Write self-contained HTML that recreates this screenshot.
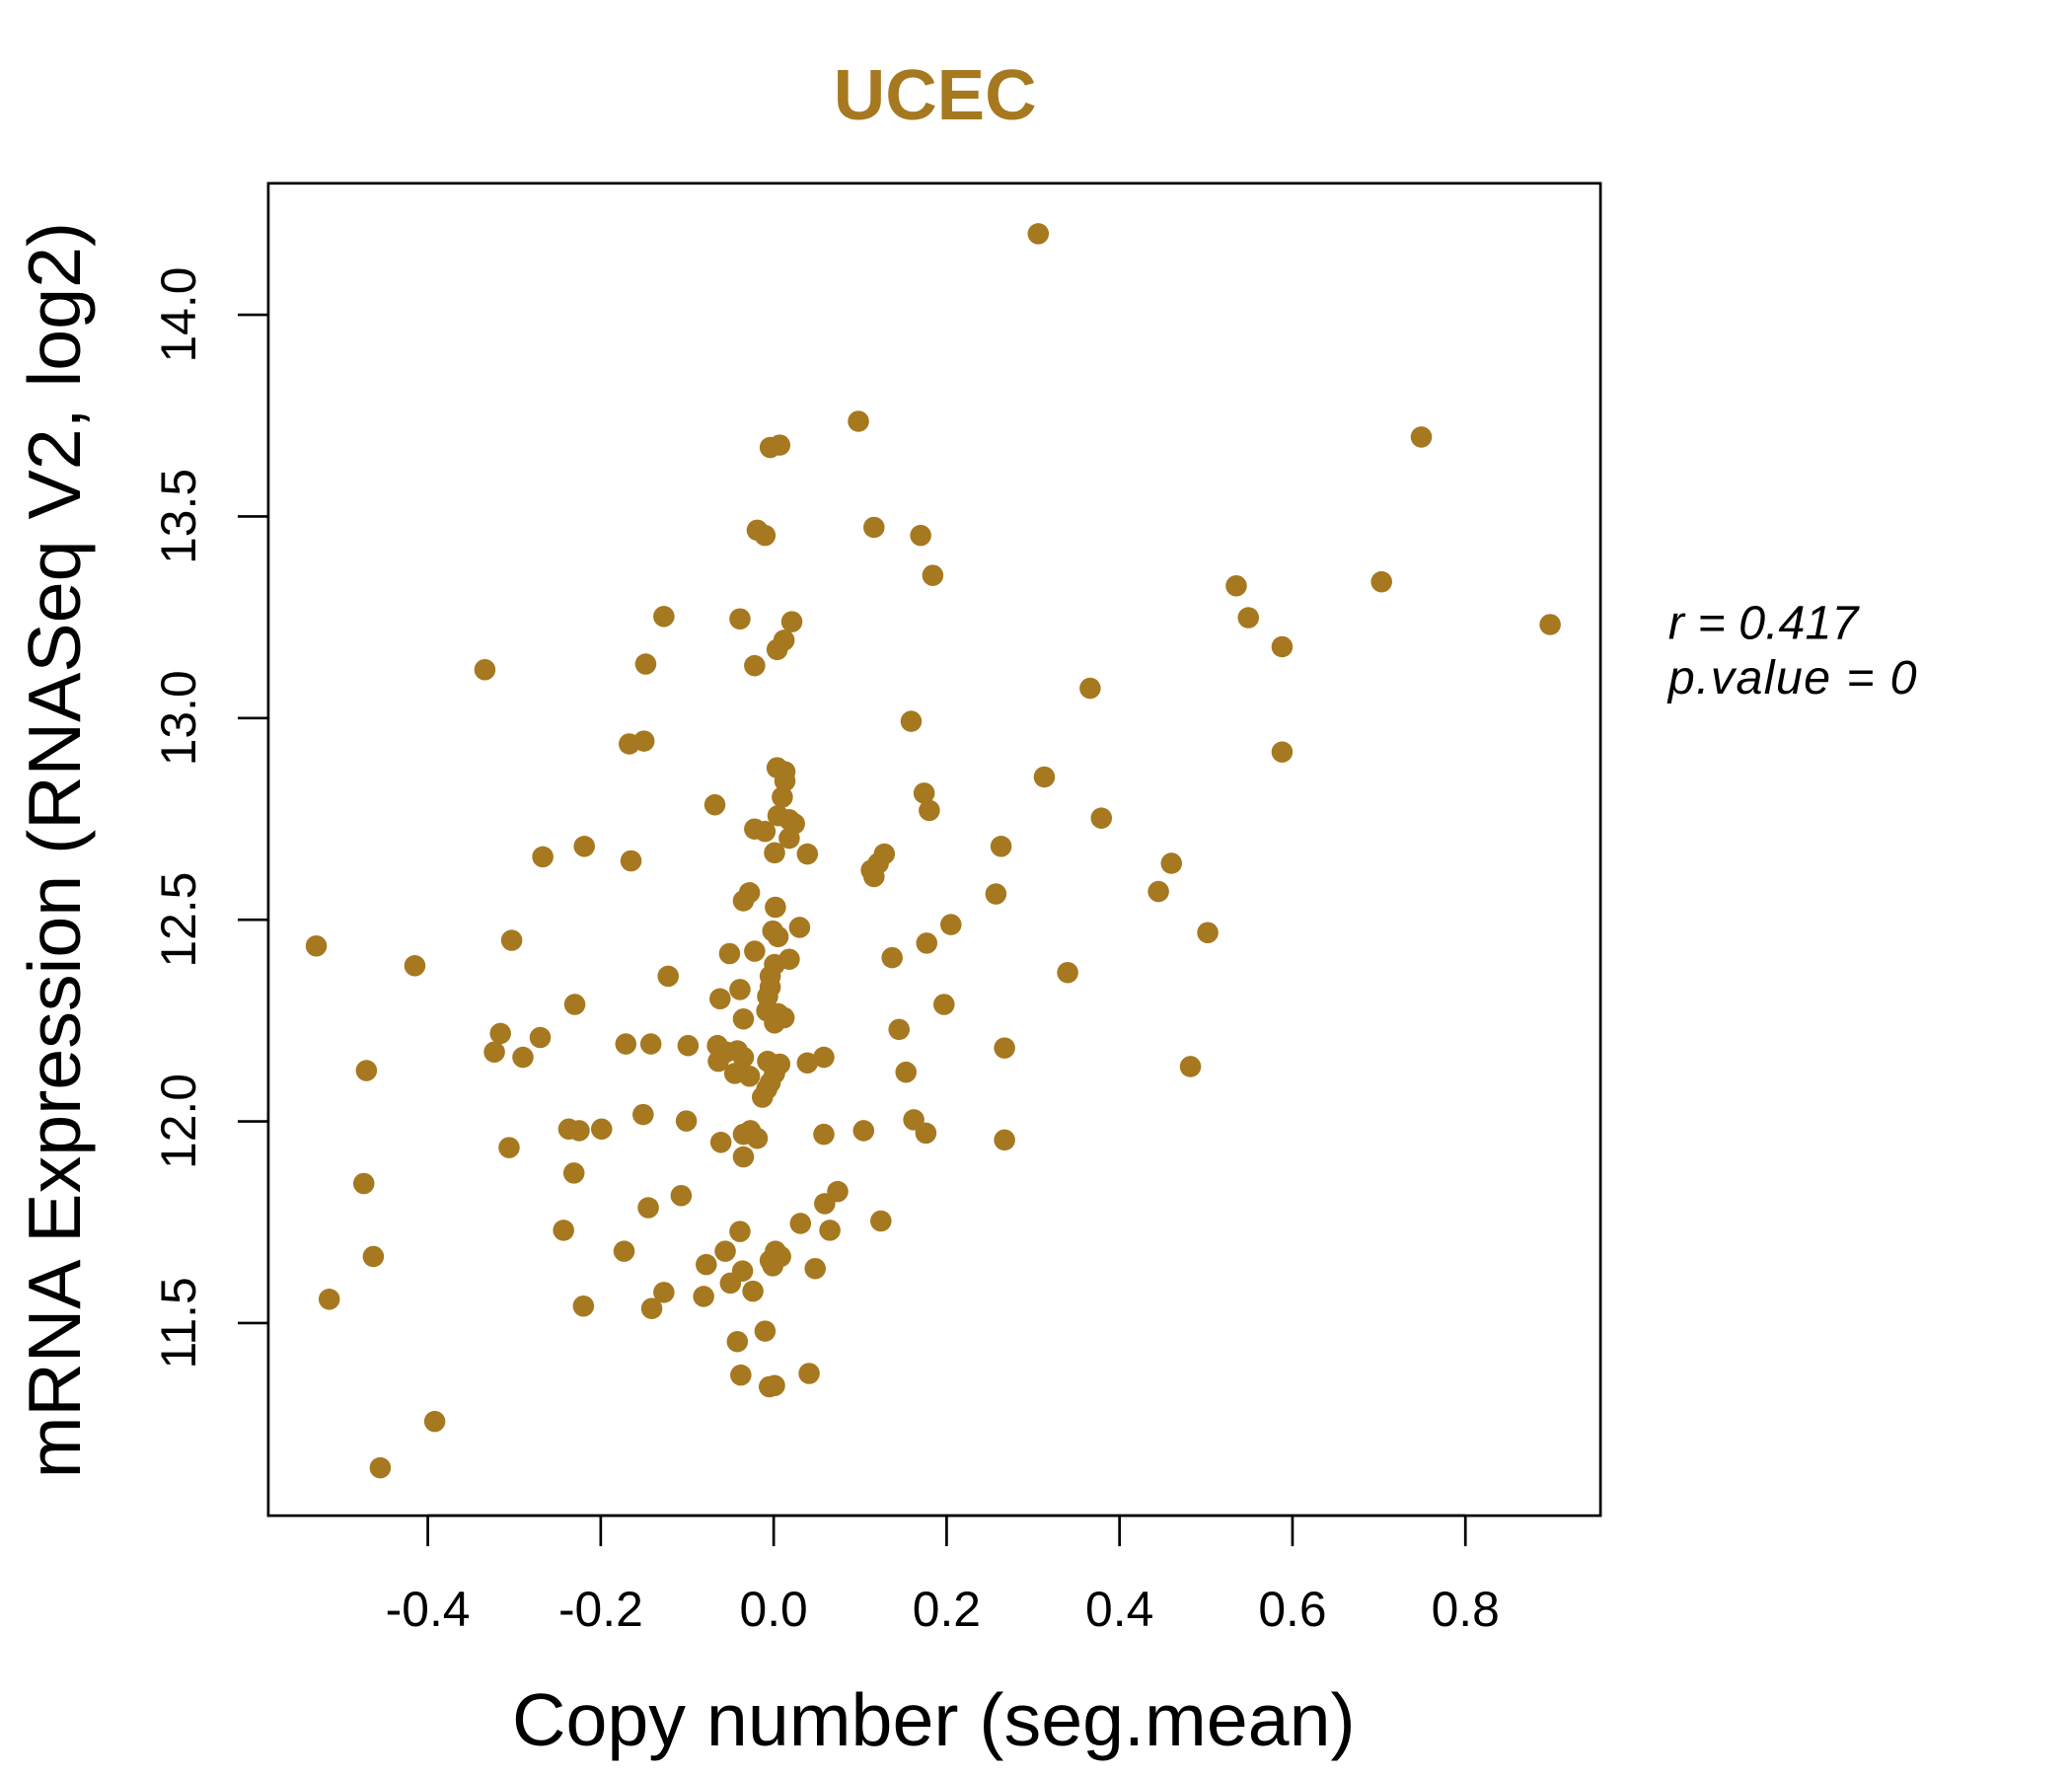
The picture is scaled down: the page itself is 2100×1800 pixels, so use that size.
<!DOCTYPE html>
<html><head><meta charset="utf-8"><style>
html,body{margin:0;padding:0;background:#fff;}
svg{display:block;}
text{font-family:"Liberation Sans",sans-serif;}
</style></head><body>
<svg id="chart" width="2100" height="1800" viewBox="0 0 1560 1337" preserveAspectRatio="none" xmlns="http://www.w3.org/2000/svg">
<rect x="0" y="0" width="1560" height="1337" fill="#fff"/>
<text x="704" y="90" text-anchor="middle" font-size="54" font-weight="bold" fill="#A67820">UCEC</text>
<rect x="202" y="138" width="1003" height="1003" fill="none" stroke="#000" stroke-width="2"/>
<g id="xaxis"></g>
<g id="yaxis"></g>
<g id="points"></g>
<text x="703" y="1314" text-anchor="middle" font-size="56">Copy number (seg.mean)</text>
<text transform="translate(60,640) rotate(-90)" text-anchor="middle" font-size="56">mRNA Expression (RNASeq V2, log2)</text>
<text x="1256" y="481" font-size="36" font-style="italic">r = 0.417</text>
<text x="1256" y="522" font-size="36" font-style="italic" letter-spacing="1">p.value = 0</text>
</svg>
<script>
const xTicks = [-0.4, -0.2, 0.0, 0.2, 0.4, 0.6, 0.8];
const xTickLabels = ["-0.4", "-0.2", "0.0", "0.2", "0.4", "0.6", "0.8"];
const yTicks = [11.5, 12.0, 12.5, 13.0, 13.5, 14.0];
const yTickLabels = ["11.5", "12.0", "12.5", "13.0", "13.5", "14.0"];
const copyNumber = [0.306,0.098,0.749,-0.004,0.007,-0.019,-0.010,0.116,0.170,0.184,0.535,0.703,0.549,0.588,0.898,-0.127,-0.039,0.021,0.012,0.004,-0.022,-0.148,-0.334,0.366,0.159,-0.167,-0.150,0.588,0.004,0.013,0.013,0.313,0.174,0.010,-0.068,0.180,0.005,0.018,0.024,0.379,-0.022,-0.010,0.018,-0.219,0.039,0.001,-0.267,-0.165,0.263,0.128,0.121,0.113,0.116,0.460,-0.028,-0.035,0.257,0.445,0.002,0.030,0.205,0.502,-0.001,0.005,-0.529,-0.303,0.177,-0.051,-0.022,0.018,0.137,0.001,-0.004,-0.415,-0.122,0.340,-0.039,-0.004,-0.062,-0.007,-0.230,0.197,-0.008,0.005,0.012,0.001,-0.035,-0.316,-0.270,-0.323,-0.290,0.145,-0.171,-0.142,-0.099,-0.065,-0.055,-0.042,-0.035,-0.064,0.267,0.058,0.039,-0.007,0.007,0.153,-0.471,0.482,-0.045,-0.028,0.001,-0.004,-0.008,-0.013,-0.151,-0.101,0.162,-0.237,-0.225,-0.199,-0.027,-0.035,-0.019,-0.061,0.104,0.058,0.176,0.267,-0.306,-0.035,-0.231,-0.474,0.074,-0.107,0.059,-0.145,0.031,0.124,-0.243,-0.039,0.065,-0.463,-0.056,-0.078,-0.173,0.002,-0.004,0.008,-0.001,-0.036,0.048,-0.050,-0.024,-0.127,-0.081,-0.514,-0.141,-0.220,-0.010,-0.042,-0.038,0.041,-0.005,0.001,-0.392,-0.455];
const expression = [14.201,13.736,13.697,13.671,13.677,13.466,13.453,13.473,13.453,13.354,13.328,13.338,13.249,13.177,13.232,13.252,13.246,13.239,13.193,13.170,13.130,13.134,13.120,13.074,12.992,12.936,12.943,12.916,12.877,12.867,12.844,12.854,12.814,12.804,12.785,12.771,12.758,12.748,12.738,12.752,12.725,12.719,12.702,12.682,12.663,12.666,12.656,12.646,12.682,12.663,12.640,12.623,12.607,12.640,12.567,12.547,12.564,12.570,12.531,12.481,12.488,12.468,12.472,12.458,12.435,12.449,12.442,12.416,12.422,12.402,12.406,12.389,12.360,12.386,12.360,12.369,12.327,12.333,12.304,12.310,12.290,12.290,12.274,12.267,12.257,12.244,12.254,12.218,12.208,12.172,12.159,12.228,12.192,12.192,12.188,12.188,12.172,12.175,12.159,12.149,12.182,12.159,12.145,12.149,12.142,12.122,12.126,12.136,12.119,12.112,12.119,12.096,12.080,12.060,12.017,12.001,12.004,11.981,11.977,11.981,11.977,11.968,11.958,11.948,11.977,11.968,11.971,11.954,11.935,11.912,11.872,11.846,11.826,11.816,11.796,11.786,11.747,11.753,11.730,11.727,11.730,11.665,11.678,11.645,11.678,11.678,11.655,11.665,11.642,11.629,11.635,11.599,11.579,11.576,11.566,11.559,11.536,11.542,11.480,11.454,11.371,11.375,11.342,11.345,11.256,11.141];

const NS = "http://www.w3.org/2000/svg";
function xScale(v){ return 582.5 + v * 651; }
function yScale(v){ return 237 + (14 - v) * 303.6; }

const xg = document.getElementById('xaxis');
const yg = document.getElementById('yaxis');
function mk(tag, attrs, parent){ const e = document.createElementNS(NS, tag); for (const k in attrs) e.setAttribute(k, attrs[k]); parent.appendChild(e); return e; }

xTicks.forEach((t, i) => {
  const x = xScale(t);
  const ln = mk('line', {x1:x, x2:x, y1:1141, y2:1164, stroke:'#000', 'stroke-width':2}, xg);
  
  
  const tx = mk('text', {x:x, y:1224, 'text-anchor':'middle', 'font-size':37}, xg);
  
  
  tx.textContent = xTickLabels[i];
});
mk('line', {x1:xScale(xTicks[0]), x2:xScale(xTicks[xTicks.length-1]), y1:1141, y2:1141, stroke:'#000', 'stroke-width':2}, xg);

yTicks.forEach((t, i) => {
  const y = yScale(t);
  const ln = mk('line', {x1:179, x2:202, y1:y, y2:y, stroke:'#000', 'stroke-width':2}, yg);
  
  
  const tx = mk('text', {transform:'translate(147,' + y + ') rotate(-90)', 'text-anchor':'middle', 'font-size':37}, yg);
  
  
  tx.textContent = yTickLabels[i];
});

const pg = document.getElementById('points');
copyNumber.forEach((v, i) => {
  const c = mk('circle', {cx:xScale(v), cy:yScale(expression[i]), r:8, fill:'#A67820'}, pg);
  
  
});
</script>
</body></html>
